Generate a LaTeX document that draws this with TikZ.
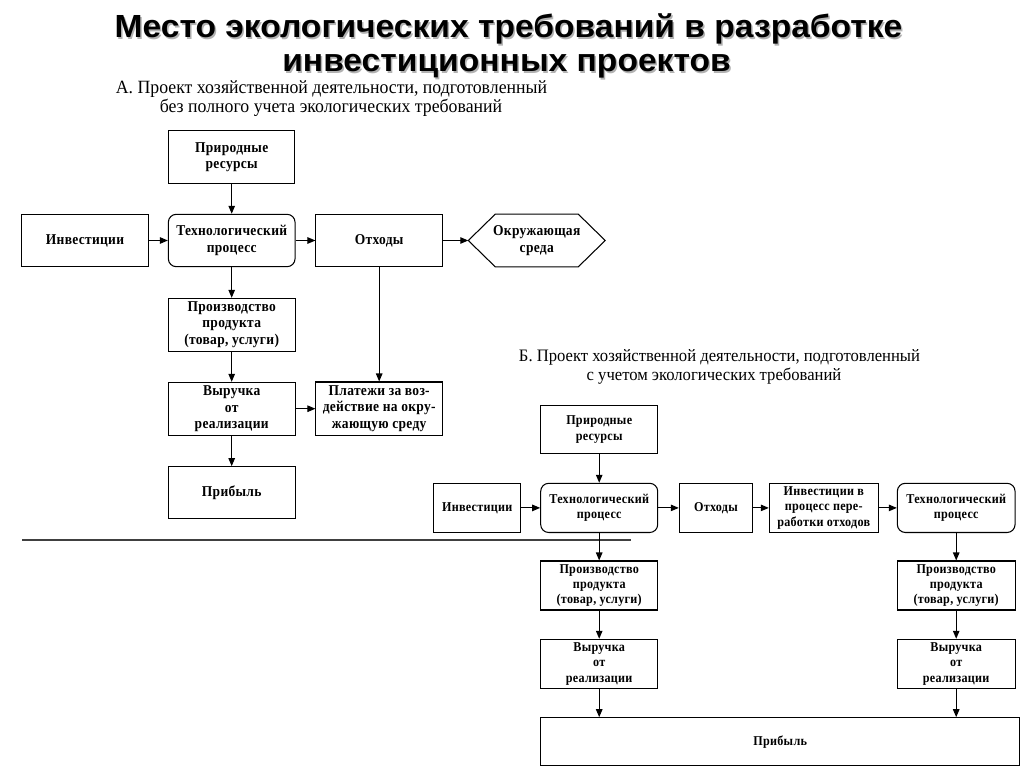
\documentclass[tikz,border=0pt]{standalone}
\usepackage{fontspec}
\setmainfont{Liberation Serif}
\newfontfamily\titlefam[FakeStretch=1.05]{Liberation Sans}
\newfontfamily\boxfam[LetterSpace=2,FakeStretch=0.9]{Liberation Serif}
\newfontfamily\subfam[FakeStretch=0.95]{Liberation Serif}
\usetikzlibrary{arrows.meta,calc}
\newcommand\boxtxtA{\boxfam\bfseries\fontsize{15}{16.5}\selectfont}
\newcommand\boxtxtB{\boxfam\bfseries\fontsize{13.5}{15.3}\selectfont}
\newcommand\subtxtA{\subfam\fontsize{18.7}{19.4}\selectfont}
\newcommand\subtxtB{\subfam\fontsize{17.5}{19}\selectfont}
\newcommand\titletxt{\titlefam\bfseries\fontsize{32}{34}\selectfont}
\begin{document}
\begin{tikzpicture}[x=1pt,y=-1pt,
  box/.style={draw, line width=1.05pt, inner sep=0pt, align=center, font=\boxtxtA},
  boxB/.style={box, font=\boxtxtB},
  rbox/.style={box, rounded corners=8pt},
  rboxB/.style={boxB, rounded corners=8pt},
  arr/.style={-{Triangle[length=8pt,width=6.5pt]}, line width=1.05pt},
  sep/.style={line width=1.4pt, draw=black!75},
  subA/.style={anchor=base, inner sep=0pt, font=\subtxtA},
  subB/.style={anchor=base, inner sep=0pt, font=\subtxtB},
  titlestyle/.style={anchor=base, inner sep=0pt, font=\titletxt},
  shadowstyle/.style={titlestyle, text=black!30}
]
\useasboundingbox (0,0) rectangle (1024,767);
% title
\node[shadowstyle] (title1s) at (510,39.5) {Место экологических требований в разработке};
\node[shadowstyle] (title2s) at (508,73.5) {инвестиционных проектов};
\node[titlestyle] (title1) at (508.5,37.8) {Место экологических требований в разработке};
\node[titlestyle] (title2) at (506.5,71.8) {инвестиционных проектов};
% subtitles
\node[subA] (subA1) at (331.5,93.3) {А. Проект хозяйственной деятельности, подготовленный};
\node[subA] (subA2) at (331,112.2) {без полного учета экологических требований};
\node[subB] (subB1) at (719.5,361) {Б. Проект хозяйственной деятельности, подготовленный};
\node[subB] (subB2) at (714,380) {с учетом экологических требований};
% ---------- Part A
\node[box, minimum width=126.5pt, minimum height=52.5pt] (natA) at (231.7,157) {Природные\\ресурсы};
\node[box, minimum width=126.6pt, minimum height=52.4pt] (invA) at (85,240.5) {Инвестиции};
\node[rbox, minimum width=126.7pt, minimum height=52.4pt] (techA) at (231.7,240.5) {Технологический\\процесс};
\node[box, minimum width=126.5pt, minimum height=52.4pt] (wasteA) at (379.2,240.5) {Отходы};
\node[align=center, font=\boxtxtA, inner sep=0pt, minimum width=136.5pt, minimum height=52.4pt] (envA) at (536.75,240.5) {Окружающая\\среда};
\draw[line width=1.05pt] (envA.west) -- ($(envA.north west)+(27,0)$) -- ($(envA.north east)+(-27,0)$) -- (envA.east) -- ($(envA.south east)+(-27,0)$) -- ($(envA.south west)+(27,0)$) -- cycle;
\node[box, minimum width=126.7pt, minimum height=52.7pt] (prodA) at (231.7,324.7) {Производство\\продукта\\(товар, услуги)};
\node[box, minimum width=126.7pt, minimum height=52.7pt] (revA) at (231.7,408.7) {Выручка\\от\\реализации};
\node[box, minimum width=126.5pt, minimum height=53.4pt] (payA) at (379.2,408.7) {Платежи за воз-\\действие на окру-\\жающую среду};
\node[box, minimum width=126.7pt, minimum height=52.3pt] (profA) at (231.7,492.8) {Прибыль};
\draw[arr] (natA) -- (techA);
\draw[arr] (invA) -- (techA);
\draw[arr] (techA) -- (wasteA);
\draw[arr] (wasteA) -- (envA.west);
\draw[arr] (techA) -- (prodA);
\draw[arr] (prodA) -- (revA);
\draw[arr] (revA) -- (profA);
\draw[arr] (revA) -- (payA);
\draw[arr] (wasteA) -- (payA);
% separator
\coordinate (sepL) at (22,540);
\coordinate (sepR) at (631,540);
\draw[sep] (sepL) -- (sepR);
% ---------- Part B
\node[boxB, minimum width=117pt, minimum height=47.6pt] (natB) at (599.2,429.5) {Природные\\ресурсы};
\node[boxB, minimum width=87.5pt, minimum height=49.2pt] (invB) at (477.2,507.9) {Инвестиции};
\node[rboxB, minimum width=117pt, minimum height=49.2pt] (techB) at (599.2,507.9) {Технологический\\процесс};
\node[boxB, minimum width=73.4pt, minimum height=49.2pt] (wasteB) at (716,507.9) {Отходы};
\node[boxB, minimum width=109pt, minimum height=49.2pt] (invProc) at (823.8,507.9) {Инвестиции в\\процесс пере-\\работки отходов};
\node[rboxB, minimum width=117.7pt, minimum height=49.2pt] (techB2) at (956.2,507.9) {Технологический\\процесс};
\node[boxB, minimum width=117pt, minimum height=49pt] (prodB) at (599.2,585.5) {Производство\\продукта\\(товар, услуги)};
\node[boxB, minimum width=117pt, minimum height=49pt] (revB) at (599.2,663.8) {Выручка\\от\\реализации};
\node[boxB, minimum width=117.7pt, minimum height=49pt] (prodB2) at (956.2,585.5) {Производство\\продукта\\(товар, услуги)};
\node[boxB, minimum width=117.7pt, minimum height=49pt] (revB2) at (956.2,663.8) {Выручка\\от\\реализации};
\node[boxB, minimum width=479pt, minimum height=47.8pt] (profB) at (780.2,741.6) {Прибыль};
\draw[arr] (natB) -- (techB);
\draw[arr] (invB) -- (techB);
\draw[arr] (techB) -- (wasteB);
\draw[arr] (wasteB) -- (invProc);
\draw[arr] (invProc) -- (techB2);
\draw[arr] (techB) -- (prodB);
\draw[arr] (prodB) -- (revB);
\draw[arr] (revB.south) -- (revB.south |- profB.north);
\draw[arr] (techB2) -- (prodB2);
\draw[arr] (prodB2) -- (revB2);
\draw[arr] (revB2.south) -- (revB2.south |- profB.north);
\end{tikzpicture}
\end{document}
